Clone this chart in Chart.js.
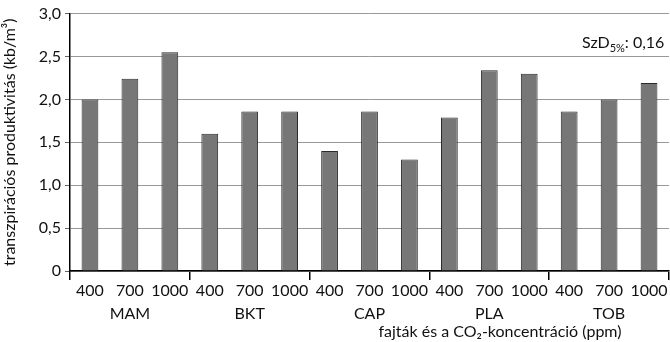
<!DOCTYPE html>
<html>
<head>
<meta charset="utf-8">
<script src="https://cdn.jsdelivr.net/npm/chart.js@4"></script>
<style>
  html, body { margin: 0; padding: 0; background: #fff; }
  #wrap { width: 670px; height: 342px; }
</style>
</head>
<body>
<div id="wrap"><canvas id="productivityChart"></canvas></div>
<script>
// data
const groups = ['MAM', 'BKT', 'CAP', 'PLA', 'TOB'];
const concentrations = ['400', '700', '1000'];
const values = [
  2.00, 2.24, 2.55,
  1.60, 1.86, 1.86,
  1.40, 1.86, 1.30,
  1.79, 2.34, 2.30,
  1.86, 2.00, 2.19
];
const yTicks = [0, 0.5, 1, 1.5, 2, 2.5, 3];

const fontFamily = 'Lato, "Open Sans", sans-serif';

// each label: ppm on top, group name under the middle bar
let labels = [];
groups.forEach(g => {
  concentrations.forEach((c, i) => {
    labels.push([c, i === 1 ? g : '']);
  });
});

// SzD note and x axis title drawn by hand
const notesPlugin = {
  id: 'notes',
  afterDraw(chart) {
    const ctx = chart.ctx;
    ctx.save();
    ctx.fillStyle = '#111';
    ctx.textBaseline = 'alphabetic';
    ctx.textAlign = 'left';
    let x = 582, y = 48;
    ctx.font = '16px ' + fontFamily;
    ctx.fillText('SzD', x, y);
    x += ctx.measureText('SzD').width;
    ctx.font = '11px ' + fontFamily;
    ctx.fillText('5%', x, y + 4);
    x += ctx.measureText('5%').width;
    ctx.font = '16px ' + fontFamily;
    ctx.fillText(': 0,16', x, y);

    ctx.textAlign = 'center';
    ctx.font = '16px ' + fontFamily;
    ctx.fillText('fajták és a CO₂-koncentráció (ppm)', 500, 337);
    ctx.restore();
  }
};

let ctxEl = document.getElementById('productivityChart').getContext('2d');
let productivityChart = new Chart(ctxEl, {
  type: 'bar',
  data: {
    labels: labels,
    datasets: [{
      data: values,
      backgroundColor: '#777777',
      borderColor: '#2a2a2a',
      borderWidth: 1,
      barPercentage: 0.42,
      categoryPercentage: 1
    }]
  },
  options: {
    responsive: true,
    maintainAspectRatio: false,
    animation: false,
    layout: { padding: { top: 13, right: 1, left: 0, bottom: 0 } },
    plugins: {
      legend: { display: false },
      tooltip: { enabled: false }
    },
    scales: {
      x: {
        offset: true,
        border: { display: true, color: '#000', width: 1.5 },
        grid: {
          offset: true,
          drawOnChartArea: false,
          drawTicks: true,
          tickLength: 9,
          lineWidth: 1.5,
          color: c => (c.index === undefined || c.index % 3 === 0) ? '#000' : 'rgba(0,0,0,0)'
        },
        ticks: {
          color: '#111',
          font: { family: fontFamily, size: 16, lineHeight: 1.4 },
          maxRotation: 0,
          autoSkip: false,
          padding: 0
        },
        afterFit: scale => { scale.height = 71; }
      },
      y: {
        min: 0,
        max: 3,
        afterBuildTicks: scale => { scale.ticks = yTicks.map(v => ({ value: v })); },
        border: { display: true, color: '#000', width: 1.5 },
        grid: {
          color: '#999999',
          lineWidth: 1,
          tickLength: 5,
          tickColor: '#666'
        },
        ticks: {
          color: '#111',
          font: { family: fontFamily, size: 16 },
          padding: 4,
          callback: v => v === 0 ? '0' : v.toFixed(1).replace('.', ',')
        },
        title: {
          display: true,
          text: 'transzpirációs produktivitás (kb/m³)',
          color: '#111',
          font: { family: fontFamily, size: 16 },
          padding: { top: 0, bottom: 2 }
        },
        afterFit: scale => { scale.width = 70; }
      }
    }
  },
  plugins: [notesPlugin]
});
</script>
</body>
</html>
